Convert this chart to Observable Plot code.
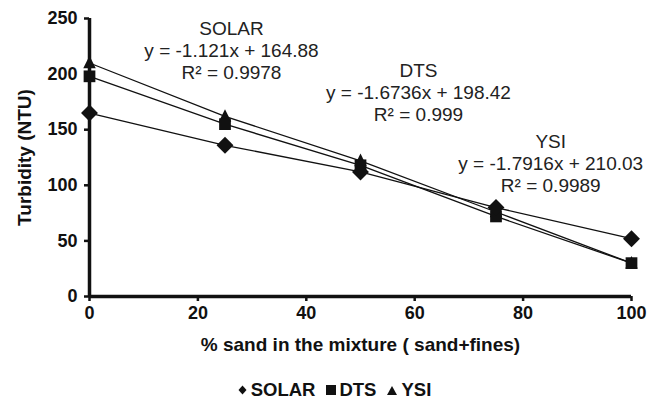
<!DOCTYPE html>
<html>
<head>
<meta charset="utf-8">
<script src="https://cdn.jsdelivr.net/npm/d3@7"></script>
<script src="https://cdn.jsdelivr.net/npm/@observablehq/plot@0.6"></script>
<style>
  body { margin: 0; background: #fff; font-family: "Liberation Sans", Arial, sans-serif; }
  g[aria-label$="tick label"] { font-size: 18px; font-weight: bold; }
  g[aria-label$="axis label"] { font-size: 19px; font-weight: bold; }
  #legend { display: flex; justify-content: center; align-items: center; width: 657px; padding-left: 12px; box-sizing: border-box; margin-top: 20px; font-weight: bold; font-size: 18.5px; color: #111; line-height: 20px; }
  #legend .item { display: flex; align-items: center; }
  #legend svg { display: block; }
</style>
</head>
<body>
<div id="chart"></div>
<script>
const sandPct = [0, 25, 50, 75, 100];
const solar = [165, 136, 112, 80, 52];
const dts = [198, 155, 118, 72, 30];
const ysi = [210, 162, 122, 76, 30];
const seriesNames = ["YSI", "DTS", "SOLAR"];
const xTicks = [0, 20, 40, 60, 80, 100];
const yTicks = [0, 50, 100, 150, 200, 250];
const eqNames = ["SOLAR", "DTS", "YSI"];
const eqLines = ["y = -1.121x + 164.88", "y = -1.6736x + 198.42", "y = -1.7916x + 210.03"];
const r2Lines = ["R\u00b2 = 0.9978", "R\u00b2 = 0.999", "R\u00b2 = 0.9989"];

// label anchor positions (data units, middle line), layout only
const labelX = [26.2, 60.7, 85.1];
const labelY = [221.2, 183.5, 119.6];

const seriesValues = {SOLAR: solar, DTS: dts, YSI: ysi};
const rows = seriesNames.flatMap(s => sandPct.map((x, i) => ({series: s, x, y: seriesValues[s][i]})));

const diamond = {
  draw(ctx, size) {
    const r = Math.sqrt(size) * 0.62;
    ctx.moveTo(0, -r); ctx.lineTo(r, 0); ctx.lineTo(0, r); ctx.lineTo(-r, 0); ctx.closePath();
  }
};
const square = {
  draw(ctx, size) {
    const h = Math.sqrt(size) * 0.43;
    ctx.rect(-h, -h, 2 * h, 2 * h);
  }
};
const triangle = {
  draw(ctx, size) {
    const h = Math.sqrt(size) * 0.46;
    ctx.moveTo(0, -h * 1.15); ctx.lineTo(h, h * 0.85); ctx.lineTo(-h, h * 0.85); ctx.closePath();
  }
};
const symbolOf = {SOLAR: diamond, DTS: square, YSI: triangle};

const annot = eqNames.flatMap((n, i) => [
  {x: labelX[i], y: labelY[i], text: n, dy: -22},
  {x: labelX[i], y: labelY[i], text: eqLines[i], dy: 0},
  {x: labelX[i], y: labelY[i], text: r2Lines[i], dy: 22}
]);

const plot = Plot.plot({
  width: 657,
  height: 360,
  marginLeft: 89,
  marginRight: 26,
  marginTop: 18,
  marginBottom: 64,
  style: {fontFamily: "'Liberation Sans', Arial, sans-serif", fontSize: "18px", fontWeight: "bold", color: "#111", background: "#fff"},
  x: {domain: [0, 100]},
  y: {domain: [0, 250]},
  marks: [
    Plot.axisX({ticks: xTicks, tickSize: 5, tickPadding: 5, strokeWidth: 2.5, label: "% sand in the mixture ( sand+fines)", labelAnchor: "center", labelArrow: "none", labelOffset: 54}),
    Plot.axisY({ticks: yTicks, tickSize: 5, tickPadding: 7, strokeWidth: 2.5, label: "Turbidity (NTU)", labelAnchor: "center", labelArrow: "none", labelOffset: 72}),
    Plot.ruleX([0], {stroke: "#111", strokeWidth: 3.5}),
    Plot.ruleY([0], {stroke: "#111", strokeWidth: 3.5}),
    Plot.line(rows, {x: "x", y: "y", z: "series", stroke: "#111", strokeWidth: 1.3}),
    ...seriesNames.map(s => Plot.dot(rows.filter(d => d.series === s), {x: "x", y: "y", symbol: () => symbolOf[s], r: 7.7, fill: "#111", stroke: "none"})),
    ...[-22, 0, 22].map(dy => Plot.text(annot.filter(d => d.dy === dy), {x: "x", y: "y", text: "text", dy, fontSize: 19, fontWeight: "normal", fill: "#222"}))
  ]
});
document.getElementById("chart").appendChild(plot);

// legend: small inline svg symbols + bold names
const legendSvg = {
  SOLAR: '<svg width="9" height="10" viewBox="0 0 9 10"><path d="M4.5,0.5L8.5,5L4.5,9.5L0.5,5Z" fill="#111"/></svg>',
  DTS: '<svg width="10" height="10" viewBox="0 0 10 10"><rect x="0" y="0" width="10" height="10" fill="#111"/></svg>',
  YSI: '<svg width="10" height="9" viewBox="0 0 10 9"><path d="M5,0L10,9L0,9Z" fill="#111"/></svg>'
};
const legendGap = {SOLAR: 4, DTS: 3, YSI: 4};
const legend = document.createElement("div");
legend.id = "legend";
legend.innerHTML = eqNames.map((n, i) =>
  `<span class="item" style="margin-left:${i === 0 ? 0 : 11}px">${legendSvg[n]}<span style="margin-left:${legendGap[n]}px">${n}</span></span>`
).join("");
document.body.appendChild(legend);
</script>
</body>
</html>
